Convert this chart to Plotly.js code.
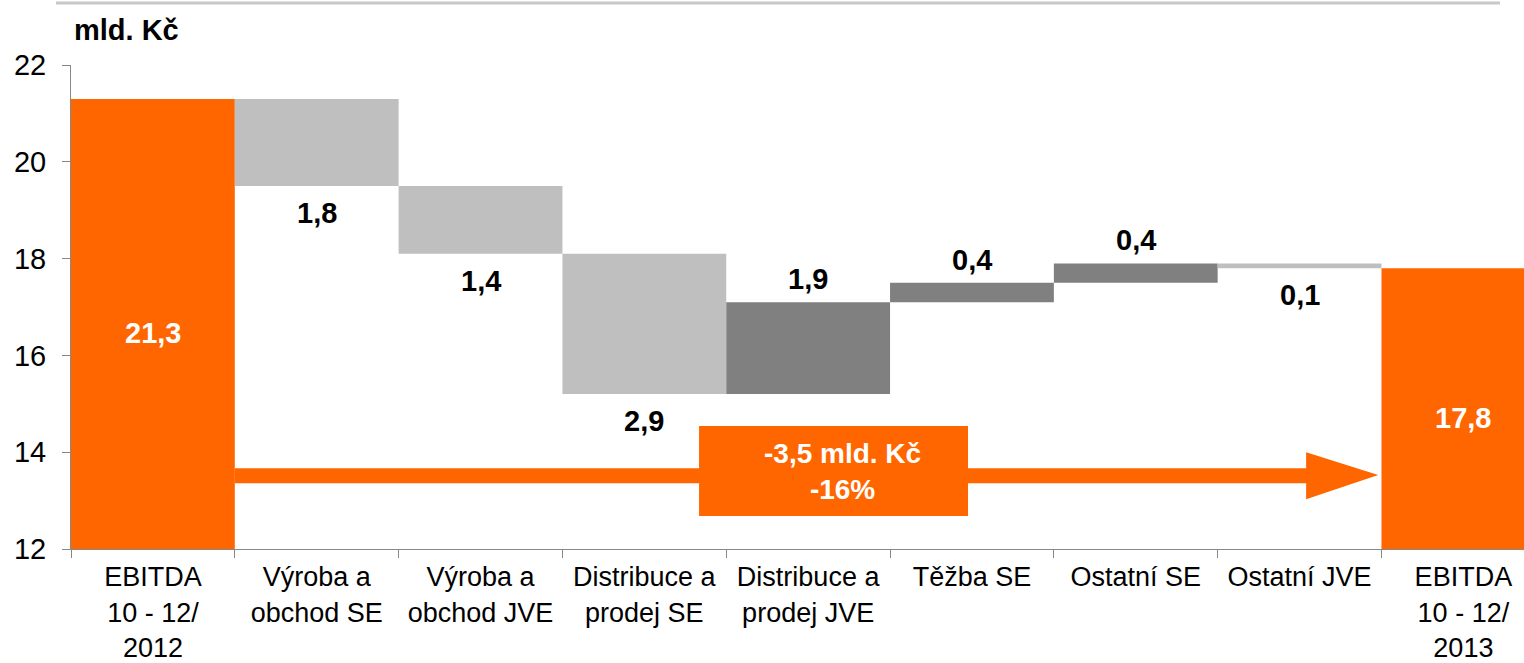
<!DOCTYPE html>
<html>
<head>
<meta charset="utf-8">
<script src="https://cdn.plot.ly/plotly-3.0.1.min.js"></script>
<style>html,body{margin:0;padding:0;background:#fff;overflow:hidden}</style>
</head>
<body>
<div id="graph" style="width:1524px;height:663px"></div>
<script>
'use strict';

var categories = ['EBITDA<br>10 - 12/<br>2012', 'Výroba a<br>obchod SE', 'Výroba a<br>obchod JVE',
    'Distribuce a<br>prodej SE', 'Distribuce a<br>prodej JVE', 'Těžba SE', 'Ostatní SE',
    'Ostatní JVE', 'EBITDA<br>10 - 12/<br>2013'];
var measures = ['absolute', 'relative', 'relative', 'relative', 'relative',
    'relative', 'relative', 'relative', 'total'];
var values = [21.3, -1.8, -1.4, -2.9, 1.9, 0.4, 0.4, -0.1, 0];
var yTicks = [12, 14, 16, 18, 20, 22];

var orange = '#FF6600';
var font = '"Liberation Sans", Arial, sans-serif';

function fmt(v) {
    return Math.abs(v).toFixed(1).replace('.', ',');
}

// value labels, placed from the running total
var annotations = [];
var run = 0, start = 0;
for (var i = 0; i < values.length; i++) {
    if (measures[i] === 'absolute' || measures[i] === 'total') {
        if (measures[i] === 'absolute') { run = values[i]; start = run; }
        annotations.push({x: i, y: (yTicks[0] + run) / 2, text: fmt(run), showarrow: false,
            yshift: -9, font: {family: font, size: 29, color: '#fff', weight: 'bold'}});
    } else {
        var prev = run;
        run = run + values[i];
        if (values[i] < 0) {
            annotations.push({x: i, y: Math.min(prev, run), yanchor: 'top', yshift: -9,
                text: fmt(values[i]), showarrow: false,
                font: {family: font, size: 29, color: '#000', weight: 'bold'}});
        } else {
            annotations.push({x: i, y: Math.max(prev, run), yanchor: 'bottom', yshift: 5,
                text: fmt(values[i]), showarrow: false,
                font: {family: font, size: 29, color: '#000', weight: 'bold'}});
        }
    }
}

var diff = run - start;
var pct = Math.round(diff / start * 100);
annotations.push({x: 4.21, y: 13.61, showarrow: false,
    text: (diff < 0 ? '-' : '') + fmt(diff) + ' mld. Kč<br>' + pct + '%',
    font: {family: font, size: 28, color: '#fff', weight: 'bold'}});
annotations.push({xref: 'paper', yref: 'paper', x: 0.001, y: 1.072, xanchor: 'left',
    yanchor: 'middle', showarrow: false, text: 'mld. Kč',
    font: {family: font, size: 29, color: '#000', weight: 'bold'}});

var trace = {
    type: 'waterfall',
    x: categories,
    y: values,
    measure: measures,
    width: 1,
    connector: {visible: false},
    increasing: {marker: {color: '#808080'}},
    decreasing: {marker: {color: '#BFBFBF'}},
    totals: {marker: {color: orange}},
    hoverinfo: 'skip'
};

var layout = {
    width: 1524,
    height: 663,
    margin: {l: 71, r: 0, t: 65, b: 114},
    paper_bgcolor: '#fff',
    plot_bgcolor: '#fff',
    showlegend: false,
    font: {family: font, size: 27, color: '#000'},
    xaxis: {
        type: 'category',
        range: [-0.5, 8.37],
        tickson: 'boundaries',
        ticks: 'outside',
        ticklen: 8,
        tickcolor: '#888',
        showline: true,
        linecolor: '#888',
        linewidth: 1,
        showgrid: false,
        zeroline: false,
        tickfont: {family: font, size: 27, color: '#000'},
        ticklabelstandoff: 4,
        fixedrange: true
    },
    yaxis: {
        range: [12, 22],
        tickvals: yTicks,
        ticks: 'outside',
        ticklen: 8,
        tickcolor: '#888',
        showline: true,
        linecolor: '#888',
        linewidth: 1,
        showgrid: false,
        zeroline: false,
        tickfont: {family: font, size: 29, color: '#000'},
        ticklabelstandoff: 10,
        fixedrange: true
    },
    shapes: [
        {type: 'line', xref: 'paper', yref: 'paper', x0: -0.0103, x1: 0.9835, y0: 1.128, y1: 1.128,
            line: {color: '#C8C8C8', width: 3}},
        {type: 'rect', x0: 0.5, x1: 7.05, y0: 13.36, y1: 13.67, fillcolor: orange, line: {width: 0}},
        {type: 'path', path: 'M 7.04,14.0 L 7.48,13.53 L 7.04,13.03 Z', fillcolor: orange, line: {width: 0}},
        {type: 'rect', x0: 3.334, x1: 4.976, y0: 12.68, y1: 14.54, fillcolor: orange, line: {width: 0}}
    ],
    annotations: annotations
};

Plotly.newPlot('graph', [trace], layout, {displayModeBar: false, staticPlot: true});
</script>
</body>
</html>
